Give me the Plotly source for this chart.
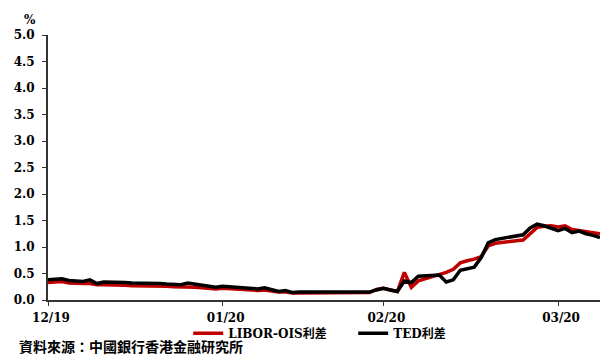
import plotly.graph_objects as go

# Trading-day index (Dec 2019 - Mar 2020)
day_index = list(range(80))

# LIBOR-OIS spread (%)
libor_ois = [
    0.33, 0.34, 0.35, 0.32, 0.31, 0.31, 0.31, 0.29, 0.29, 0.29,
    0.28, 0.28, 0.27, 0.27, 0.26, 0.27, 0.26, 0.26, 0.25, 0.25,
    0.25, 0.24, 0.23, 0.22, 0.21, 0.22, 0.21, 0.21, 0.20, 0.19,
    0.18, 0.19, 0.17, 0.15, 0.15, 0.13, 0.13, 0.13, 0.13, 0.13,
    0.13, 0.13, 0.13, 0.13, 0.13, 0.13, 0.14, 0.20, 0.22, 0.19,
    0.16, 0.52, 0.24, 0.36, 0.40, 0.43, 0.48, 0.52, 0.58, 0.70,
    0.74, 0.77, 0.82, 1.02, 1.07, 1.09, 1.11, 1.12, 1.13, 1.25,
    1.37, 1.39, 1.40, 1.38, 1.40, 1.33, 1.31, 1.29, 1.27, 1.25,
]

# TED spread (%)
ted = [
    0.38, 0.39, 0.40, 0.37, 0.36, 0.35, 0.38, 0.31, 0.34, 0.34,
    0.33, 0.33, 0.32, 0.32, 0.31, 0.31, 0.31, 0.30, 0.29, 0.29,
    0.32, 0.30, 0.28, 0.26, 0.24, 0.26, 0.25, 0.24, 0.23, 0.22,
    0.21, 0.23, 0.19, 0.16, 0.18, 0.14, 0.15, 0.15, 0.15, 0.15,
    0.15, 0.14, 0.14, 0.15, 0.15, 0.15, 0.15, 0.19, 0.22, 0.19,
    0.16, 0.36, 0.33, 0.45, 0.46, 0.46, 0.47, 0.34, 0.38, 0.56,
    0.59, 0.62, 0.80, 1.08, 1.14, 1.16, 1.18, 1.21, 1.23, 1.36,
    1.43, 1.40, 1.36, 1.31, 1.35, 1.27, 1.30, 1.25, 1.22, 1.18,
]

# Month ticks on the trading-day index
month_ticks = [0, 25, 48, 73]
month_labels = ["12/19", "01/20", "02/20", "03/20"]

y_ticks = [0.0, 0.5, 1.0, 1.5, 2.0, 2.5, 3.0, 3.5, 4.0, 4.5, 5.0]

FONT = "'DejaVu Serif', 'Noto Sans CJK TC', serif"
CJK = "'Noto Sans CJK TC', 'DejaVu Serif', sans-serif"
AXIS_GREY = "#333333"

fig = go.Figure()
fig.add_trace(go.Scatter(
    x=day_index, y=libor_ois, mode="lines", name="LIBOR-OIS利差",
    line=dict(color="#C00000", width=3.5),
))
fig.add_trace(go.Scatter(
    x=day_index, y=ted, mode="lines", name="TED利差",
    line=dict(color="#000000", width=3.5),
))

tick_font = dict(family=FONT, size=12, color="black", weight="bold")

fig.update_layout(
    width=600, height=358,
    margin=dict(l=48, r=0, t=35, b=58),
    paper_bgcolor="white", plot_bgcolor="white",
    font=dict(family=FONT, size=12, color="black", weight="bold"),
    showlegend=True,
    legend=dict(
        orientation="h", x=0.254, xanchor="left", y=-0.125, yanchor="middle",
        font=dict(family=FONT, size=12, color="black", weight="bold"),
        bgcolor="rgba(0,0,0,0)", itemwidth=30, entrywidth=120,
        entrywidthmode="pixels",
    ),
    xaxis=dict(
        range=[0, 79], tickmode="array", tickvals=month_ticks, ticktext=month_labels,
        showgrid=False, zeroline=False, showline=True, linecolor=AXIS_GREY, linewidth=2,
        ticks="outside", ticklen=4, tickcolor=AXIS_GREY, tickwidth=1,
        ticklabelshift=3, ticklabelstandoff=2, tickfont=tick_font,
    ),
    yaxis=dict(
        range=[0, 5], tickmode="array", tickvals=y_ticks,
        ticktext=[f"{v:.1f}" for v in y_ticks],
        showgrid=False, zeroline=False, showline=True, linecolor=AXIS_GREY, linewidth=2,
        ticks="outside", ticklen=4, tickcolor=AXIS_GREY, tickwidth=1,
        ticklabelstandoff=5, tickfont=tick_font,
    ),
    annotations=[
        # unit label above the value axis
        dict(text="%", x=-0.033, y=1.058, xref="paper", yref="paper",
             xanchor="center", yanchor="middle", showarrow=False,
             font=dict(family=FONT, size=12, color="black", weight="bold")),
        # source note
        dict(text="資料來源：中國銀行香港金融研究所", x=-0.056, y=-0.175,
             xref="paper", yref="paper", xanchor="left", yanchor="middle",
             showarrow=False,
             font=dict(family=CJK, size=14, color="black", weight="bold")),
    ],
)

fig.write_html("out.html")
